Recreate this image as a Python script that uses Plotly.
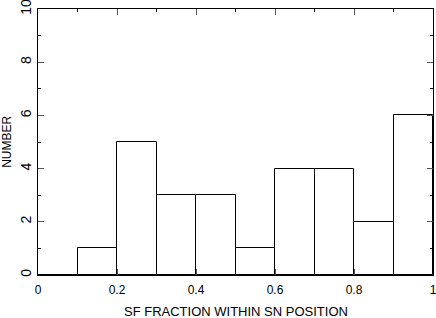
import plotly.graph_objects as go

bin_left = [0.0, 0.1, 0.2, 0.3, 0.4, 0.5, 0.6, 0.7, 0.8, 0.9]
counts = [0, 1, 5, 3, 3, 1, 4, 4, 2, 6]
bin_width = 0.1
x_ticks = [0, 0.2, 0.4, 0.6, 0.8, 1]
x_tick_labels = ["0", "0.2", "0.4", "0.6", "0.8", "1"]
y_ticks = [0, 2, 4, 6, 8, 10]
y_tick_labels = ["0", "2", "4", "6", "8", "10"]
x_title = "SF FRACTION WITHIN SN POSITION"
y_title = "NUMBER"

centers = [b + bin_width / 2 for b in bin_left]

fig = go.Figure()
fig.add_trace(go.Bar(
    x=centers, y=counts, width=[bin_width] * len(centers),
    marker=dict(color="white", line=dict(color="black", width=1)),
    showlegend=False,
))

font = dict(family="Liberation Sans, Arial, sans-serif", color="black")
fig.update_layout(
    width=436, height=318,
    margin=dict(l=38, r=3, t=9, b=43),
    paper_bgcolor="white", plot_bgcolor="white",
    bargap=0,
    font=font,
    xaxis=dict(
        range=[0, 1], tickvals=x_ticks, ticktext=x_tick_labels,
        ticks="inside", ticklen=6, tickwidth=1, tickcolor="#555",
        minor=dict(dtick=0.1, ticks="inside", ticklen=3, tickcolor="black"),
        showline=True, linecolor="black", linewidth=1, mirror="ticks",
        showgrid=False, zeroline=False, automargin=False,
        ticklabeloverflow="allow", ticklabelstandoff=4,
        tickfont=dict(size=12, **font),
    ),
    yaxis=dict(
        range=[0, 10], tickvals=y_ticks, ticktext=y_tick_labels,
        ticks="inside", ticklen=6, tickwidth=1, tickcolor="#555",
        minor=dict(dtick=1, ticks="inside", ticklen=3, tickcolor="black"),
        showline=True, linecolor="black", linewidth=1, mirror="ticks",
        showgrid=False, zeroline=False, tickangle=-90, automargin=False,
        ticklabeloverflow="allow",
        tickfont=dict(size=14, **font),
    ),
    annotations=[
        dict(text=x_title, xref="paper", yref="paper", x=0.5, y=-0.137,
             xanchor="center", yanchor="middle", showarrow=False,
             font=dict(size=13, **font)),
        dict(text=y_title, xref="paper", yref="paper", x=-0.079, y=0.5,
             xanchor="center", yanchor="middle", showarrow=False, textangle=-90,
             font=dict(size=12, **font)),
    ],
)
fig.write_html("out.html", config={"displayModeBar": False},
               post_script="document.body.style.margin='0';document.body.style.overflow='hidden';")
